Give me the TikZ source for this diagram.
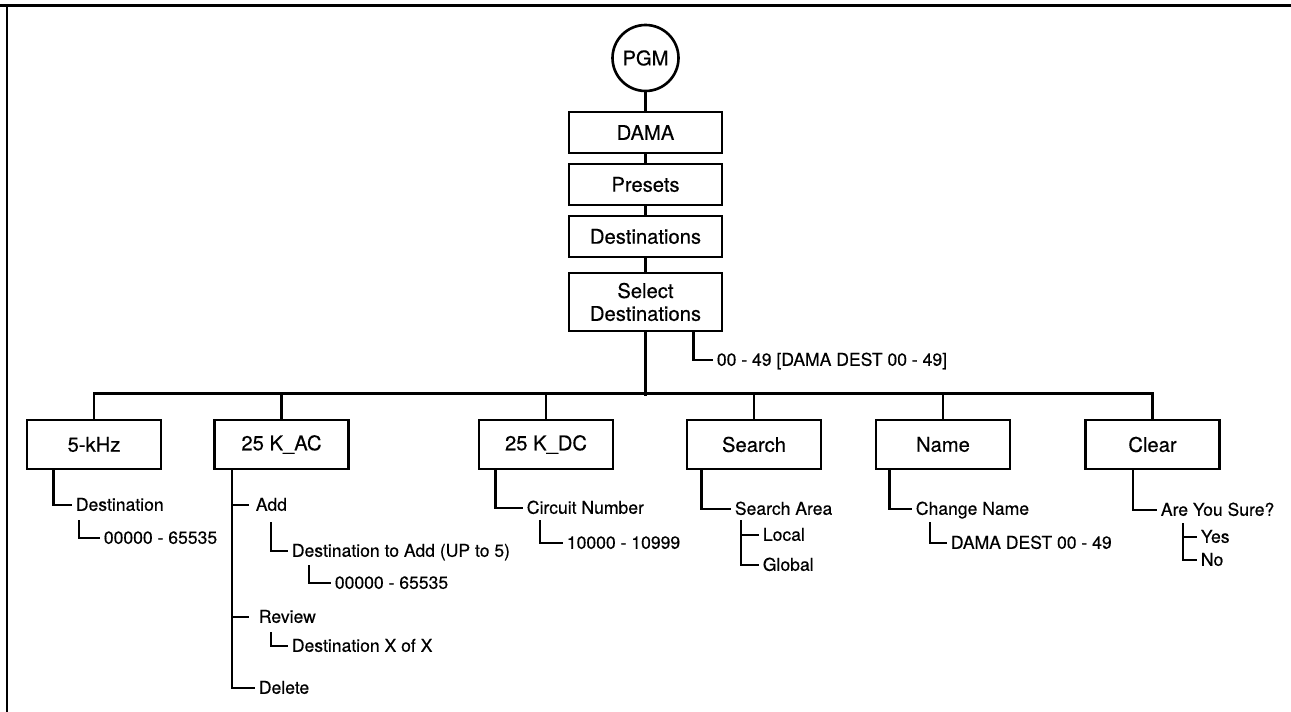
\documentclass[tikz,border=0pt]{standalone}
\usepackage{fontspec}
\setmainfont[FakeBold=0.4]{TeX Gyre Heros}
\usetikzlibrary{calc}
\begin{document}
\begin{tikzpicture}[x=0.02cm,y=-0.02cm,
  conn/.style={line width=1.45pt},
  mainbox/.style={draw,line width=1.6pt,minimum width=3.06cm,minimum height=0.82cm,inner sep=0pt,font=\fontsize{11.5}{13}\selectfont,align=center},
  childbox/.style={draw,line width=1.6pt,minimum width=2.68cm,minimum height=0.98cm,inner sep=0pt,font=\fontsize{11.5}{13}\selectfont},
  item/.style={anchor=west,inner xsep=2pt,inner ysep=0pt,text height=1.5ex,text depth=0.25ex,font=\fontsize{10}{12}\selectfont}]
\useasboundingbox (0,0) rectangle (1291,712);
% frame
\draw[line width=1.7pt] (0,6) -- (1291,6);
\draw[line width=1.7pt] (7,6) -- (7,712);
% main column
\node[draw,circle,line width=1.5pt,minimum size=1.32cm,inner sep=0pt,font=\fontsize{11.5}{13}\selectfont] (pgm) at (645.5,58) {PGM};
\node[mainbox] (dama) at (645.5,132.5) {DAMA};
\node[mainbox] (presets) at (645.5,184.5) {Presets};
\node[mainbox] (dests) at (645.5,236.5) {Destinations};
\node[mainbox,minimum height=1.16cm] (sel) at (645.5,302) {Select\\Destinations};
\draw[conn] (pgm.south) -- (dama.north);
\draw[conn] (dama.south) -- (presets.north);
\draw[conn] (presets.south) -- (dests.north);
\draw[conn] (dests.south) -- (sel.north);
\node[item] (seltxt) at (713,360) {00 - 49 [DAMA DEST 00 - 49]};
\draw[conn] ($(sel.south)+(48,0)$) |- (seltxt.west);
% children
\node[childbox] (k5) at (94,444.5) {5-kHz};
\node[childbox] (kac) at (281.5,444.5) {25 K\_AC};
\node[childbox] (kdc) at (546,444.5) {25 K\_DC};
\node[childbox] (search) at (754,444.5) {Search};
\node[childbox] (name) at (943,444.5) {Name};
\node[childbox] (clear) at (1152.5,444.5) {Clear};
\draw[conn] (sel.south) -- ++(0,64);
\draw[conn] (k5.north) -- ++(0,-25) -| (clear.north);
\draw[conn] (kac.north) -- ++(0,-25);
\draw[conn] (kdc.north) -- ++(0,-25);
\draw[conn] (search.north) -- ++(0,-25);
\draw[conn] (name.north) -- ++(0,-25);
% 5-kHz
\node[item] (dest1) at (72,505) {Destination};
\node[item] (num1) at (100,538) {00000 - 65535};
\draw[conn] ($(k5.south west)+(28,0)$) |- (dest1.west);
\draw[conn] ($(dest1.west)+(7,15)$) |- (num1.west);
% 25 K_AC
\node[item] (add) at (252,505) {Add};
\node[item] (adddest) at (288,551) {Destination to Add (UP to 5)};
\node[item] (addnum) at (331,583) {00000 - 65535};
\node[item] (review) at (255,617) {Review};
\node[item] (revdest) at (288,646) {Destination X of X};
\node[item] (delete) at (255,688) {Delete};
\draw[conn] ($(kac.south west)+(19,0)$) coordinate (acl) |- (delete.west);
\draw[conn] (acl |- add.west) -- ++(17,0);
\draw[conn] (acl |- review.west) -- ++(17,0);
\draw[conn] ($(add.west)+(19,17)$) |- (adddest.west);
\draw[conn] ($(adddest.west)+(21,14)$) |- (addnum.west);
\draw[conn] ($(review.west)+(16,15)$) |- (revdest.west);
% 25 K_DC
\node[item] (circ) at (523,508) {Circuit Number};
\node[item] (circnum) at (563,543) {10000 - 10999};
\draw[conn] ($(kdc.south west)+(18,0)$) |- (circ.west);
\draw[conn] ($(circ.west)+(17,12)$) |- (circnum.west);
% Search
\node[item] (area) at (731,509) {Search Area};
\node[item] (local) at (759,535) {Local};
\node[item] (global) at (759,565) {Global};
\draw[conn] ($(search.south west)+(16,0)$) |- (area.west);
\draw[conn] ($(area.west)+(10,11)$) coordinate (sa) |- (global.west);
\draw[conn] (sa |- local.west) -- (local.west);
% Name
\node[item] (chname) at (912,509) {Change Name};
\node[item] (dd) at (947,543) {DAMA DEST 00 - 49};
\draw[conn] ($(name.south west)+(15,0)$) |- (chname.west);
\draw[conn] ($(chname.west)+(18,13)$) |- (dd.west);
% Clear
\node[item] (sure) at (1157,510) {Are You Sure?};
\node[item] (yes) at (1197,537) {Yes};
\node[item] (no) at (1197,560) {No};
\draw[conn] ($(clear.south west)+(49,0)$) |- (sure.west);
\draw[conn] ($(sure.west)+(26,13)$) coordinate (cy) |- (no.west);
\draw[conn] (cy |- yes.west) -- (yes.west);
\end{tikzpicture}
\end{document}
